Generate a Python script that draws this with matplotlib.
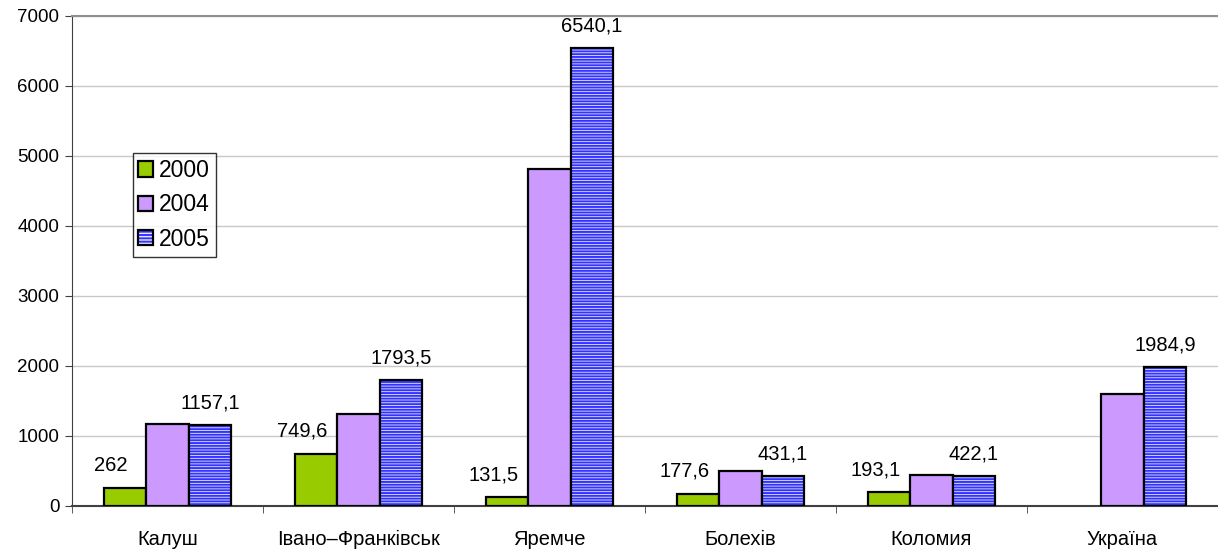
import numpy as np
import matplotlib.pyplot as plt
import matplotlib as mpl
from matplotlib.legend_handler import HandlerTuple

plt.rcParams['font.family'] = ['Liberation Sans', 'DejaVu Sans']
plt.rcParams['hatch.linewidth'] = 1.4

categories = ["Калуш", "Івано–Франківськ", "Яремче", "Болехів", "Коломия", "Україна"]
years = ["2000", "2004", "2005"]
v2000 = [262, 749.6, 131.5, 177.6, 193.1, 0]
v2004 = [1171, 1314, 4812, 505, 443, 1597]
v2005 = [1157.1, 1793.5, 6540.1, 431.1, 422.1, 1984.9]
labels2000 = ["262", "749,6", "131,5", "177,6", "193,1", ""]
labels2005 = ["1157,1", "1793,5", "6540,1", "431,1", "422,1", "1984,9"]

green = "#99CC00"
purple = "#CC99FF"
blue = "#3333FF"
hatchface = "#E8E8FF"

fig = plt.figure(figsize=(12.18, 5.49), dpi=100)
ax = fig.add_axes([72/1218, 43/549, 1146/1218, 490/549])

x = np.arange(len(categories))
w = 0.222

# no outline for empty bars (Україна has no 2000 value)
lw2000 = [1.6 if v > 0 else 0 for v in v2000]
ax.bar(x - w, v2000, w, color=green, edgecolor="black", linewidth=lw2000, zorder=3)
ax.bar(x, v2004, w, color=purple, edgecolor="black", linewidth=1.6, zorder=3)
# hatched fill, then black outline on top
ax.bar(x + w, v2005, w, color=hatchface, edgecolor=blue, hatch="------", linewidth=0, zorder=3)
ax.bar(x + w, v2005, w, color="none", edgecolor="black", linewidth=1.6, zorder=4)

for i in range(len(categories)):
    if labels2000[i]:
        ax.annotate(labels2000[i], (x[i] - w, v2000[i]), xytext=(-10, 12), textcoords="offset points",
                    ha="center", va="baseline", fontsize=14.5)
    ax.annotate(labels2005[i], (x[i] + w, v2005[i]), xytext=(0, 12), textcoords="offset points",
                ha="center", va="baseline", fontsize=14.5)

ax.set_xlim(-0.5, len(categories) - 0.5)
ax.set_ylim(0, 7000)
ax.set_yticks(range(0, 7001, 1000))
ax.yaxis.grid(True, color="#C8C8C8", linewidth=1)
ax.set_axisbelow(True)

ax.set_xticks(x)
ax.set_xticklabels(categories, fontsize=14.5)
ax.tick_params(axis="x", length=0, pad=17)
ax.set_xticks(np.arange(-0.5, len(categories), 1), minor=True)
ax.tick_params(axis="x", which="minor", length=5, color="#404040", direction="out")
ax.tick_params(axis="y", labelsize=13.5, length=5, color="#404040", direction="out", pad=4)

ax.spines["left"].set_color("#404040")
ax.spines["bottom"].set_color("#404040")
ax.spines["bottom"].set_linewidth(1.5)
ax.spines["top"].set_color("#909090")
ax.spines["top"].set_linewidth(1.5)
ax.spines["right"].set_visible(False)

# legend: the 2005 handle is a blue hatched patch with a black outline over it
h0 = mpl.patches.Patch(facecolor=green, edgecolor="black", linewidth=1.6)
h1 = mpl.patches.Patch(facecolor=purple, edgecolor="black", linewidth=1.6)
h2a = mpl.patches.Patch(facecolor=hatchface, edgecolor=blue, hatch="-----", linewidth=0)
h2b = mpl.patches.Patch(facecolor="none", edgecolor="black", linewidth=1.6)
leg = ax.legend([h0, h1, (h2a, h2b)], years, loc="upper left", bbox_to_anchor=(0.053, 0.72),
                handler_map={tuple: HandlerTuple(ndivide=1, pad=0)},
                fontsize=16.5, frameon=True, fancybox=False, edgecolor="black",
                handlelength=0.65, handleheight=0.65, handletextpad=0.25,
                labelspacing=0.5, borderpad=0.25, borderaxespad=0)
leg.get_frame().set_linewidth(1)

fig.savefig("out.png", dpi=100)
